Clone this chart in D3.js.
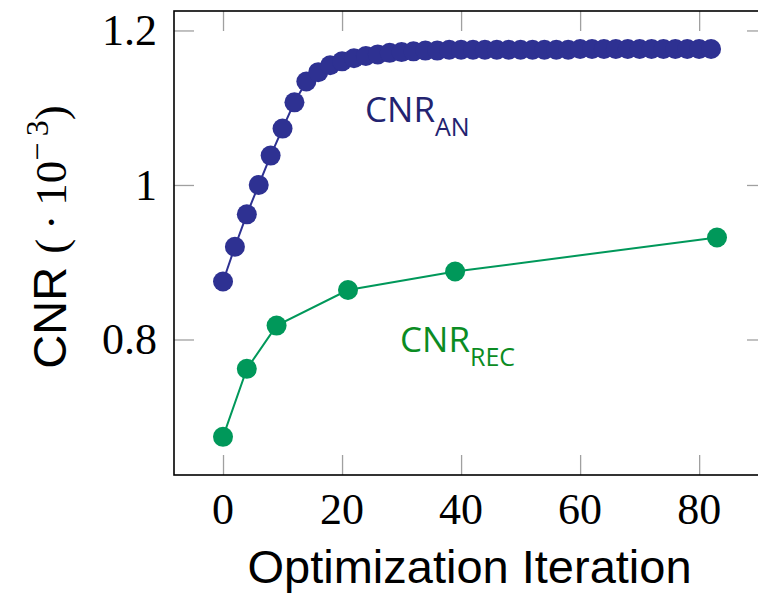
<!DOCTYPE html>
<html>
<head>
<meta charset="utf-8">
<script src="https://cdn.jsdelivr.net/npm/d3@7"></script>
<style>
  body { margin: 0; background: #fff; }
  svg { display: block; overflow: hidden; }
</style>
</head>
<body>
<div class="canvas"></div>
<script>
// data
const anIter = [0, 2, 4, 6, 8, 10, 12, 14, 16, 18, 20, 22, 24, 26, 28, 30, 32, 34, 36, 38,
                40, 42, 44, 46, 48, 50, 52, 54, 56, 58, 60, 62, 64, 66, 68, 70, 72, 74, 76, 78, 80, 82];
const anCnr = [0.875, 0.920, 0.962, 1.000, 1.038, 1.073, 1.107, 1.134, 1.146, 1.155, 1.160, 1.164,
               1.167, 1.169, 1.171, 1.172, 1.173, 1.174, 1.174, 1.175,
               1.175, 1.175, 1.175, 1.175, 1.175, 1.175, 1.175, 1.175, 1.175, 1.175,
               1.176, 1.176, 1.176, 1.176, 1.176, 1.176, 1.176, 1.176, 1.176, 1.176, 1.176, 1.176];
const recIter = [0, 4, 9, 21, 39, 83];
const recCnr = [0.674, 0.762, 0.818, 0.864, 0.888, 0.932];
const xTicks = [0, 20, 40, 60, 80];
const yTicks = [0.8, 1, 1.2];

const dims = { width: 758, height: 595 };
const box = { left: 174, top: 11, right: 767, bottom: 475 };

const svg = d3.select('.canvas')
  .append('svg')
  .attr('width', dims.width)
  .attr('height', dims.height);

const x = d3.scaleLinear().domain([-8.235, 91.4]).range([box.left, box.right]);
const y = d3.scaleLinear().domain([0.6246, 1.2252]).range([box.bottom, box.top]);

// ticks on all four sides, pointing inward
const tickLen = 20;
const tickCol = '#a0a0a0';
const axes = svg.append('g');
axes.append('g').attr('transform', `translate(0,${box.bottom})`)
  .call(d3.axisTop(x).tickValues(xTicks).tickSize(tickLen).tickFormat(''));
axes.append('g').attr('transform', `translate(0,${box.top})`)
  .call(d3.axisBottom(x).tickValues(xTicks).tickSize(tickLen).tickFormat(''));
axes.append('g').attr('transform', `translate(${box.left},0)`)
  .call(d3.axisRight(y).tickValues(yTicks).tickSize(tickLen).tickFormat(''));
axes.append('g').attr('transform', `translate(${box.right},0)`)
  .call(d3.axisLeft(y).tickValues(yTicks).tickSize(tickLen).tickFormat(''));
axes.selectAll('.domain').remove();
axes.selectAll('.tick line').attr('stroke', tickCol).attr('stroke-width', 1.3);

// tick labels
svg.append('g').selectAll('text')
  .data(xTicks).join('text')
  .attr('x', d => x(d))
  .attr('y', 524)
  .attr('text-anchor', 'middle')
  .attr('font-family', '"Liberation Serif", serif')
  .attr('font-size', 44)
  .text(d => d);

svg.append('g').selectAll('text')
  .data(yTicks).join('text')
  .attr('x', 157)
  .attr('y', d => y(d))
  .attr('dy', '0.34em')
  .attr('text-anchor', 'end')
  .attr('font-family', '"Liberation Serif", serif')
  .attr('font-size', 44)
  .text(d => d);

// frame
svg.append('rect')
  .attr('x', box.left).attr('y', box.top)
  .attr('width', box.right - box.left).attr('height', box.bottom - box.top)
  .attr('fill', 'none').attr('stroke', '#000').attr('stroke-width', 1.6);

// series
const line = d3.line().x(d => x(d[0])).y(d => y(d[1]));
const series = [
  { name: 'AN', iter: anIter, cnr: anCnr, col: '#2e3192', text: '#232370' },
  { name: 'REC', iter: recIter, cnr: recCnr, col: '#00985a', text: '#0b8c23' }
];

series.forEach(s => {
  const pts = s.iter.map((it, i) => [it, s.cnr[i]]);
  svg.append('path')
    .attr('d', line(pts))
    .attr('fill', 'none')
    .attr('stroke', s.col)
    .attr('stroke-width', 2);
  svg.append('g').selectAll('circle')
    .data(pts).join('circle')
    .attr('cx', d => x(d[0]))
    .attr('cy', d => y(d[1]))
    .attr('r', 10)
    .attr('fill', s.col);
});

// in-plot labels
const labelPos = [
  { s: series[0], x: 365, y: 122 },
  { s: series[1], x: 400, y: 352 }
];
labelPos.forEach(l => {
  const t = svg.append('text')
    .attr('x', l.x).attr('y', l.y)
    .attr('font-family', '"Open Sans", sans-serif')
    .attr('font-size', 35)
    .attr('fill', l.s.text)
    .text('CNR');
  t.append('tspan')
    .attr('dy', 14)
    .attr('font-size', 25)
    .text(l.s.name);
});

// axis titles
svg.append('text')
  .attr('x', (box.left + box.right) / 2 - 1)
  .attr('y', 583)
  .attr('text-anchor', 'middle')
  .attr('font-family', '"Liberation Sans", Arial, sans-serif')
  .attr('font-size', 47)
  .text('Optimization Iteration');

const ylab = svg.append('text')
  .attr('transform', `translate(66,${(box.top + box.bottom) / 2 - 6}) rotate(-90)`)
  .attr('text-anchor', 'middle')
  .attr('font-size', 47);
ylab.append('tspan')
  .attr('font-family', '"Liberation Sans", Arial, sans-serif')
  .text('CNR ');
ylab.append('tspan')
  .attr('font-family', '"Liberation Serif", serif')
  .attr('font-size', 45)
  .text('(\u2009·\u200910');
ylab.append('tspan')
  .attr('font-family', '"Liberation Serif", serif')
  .attr('font-size', 32)
  .attr('dy', -18)
  .text('\u2212\u20093');
ylab.append('tspan')
  .attr('font-family', '"Liberation Serif", serif')
  .attr('font-size', 45)
  .attr('dy', 18)
  .text(')');
</script>
</body>
</html>
